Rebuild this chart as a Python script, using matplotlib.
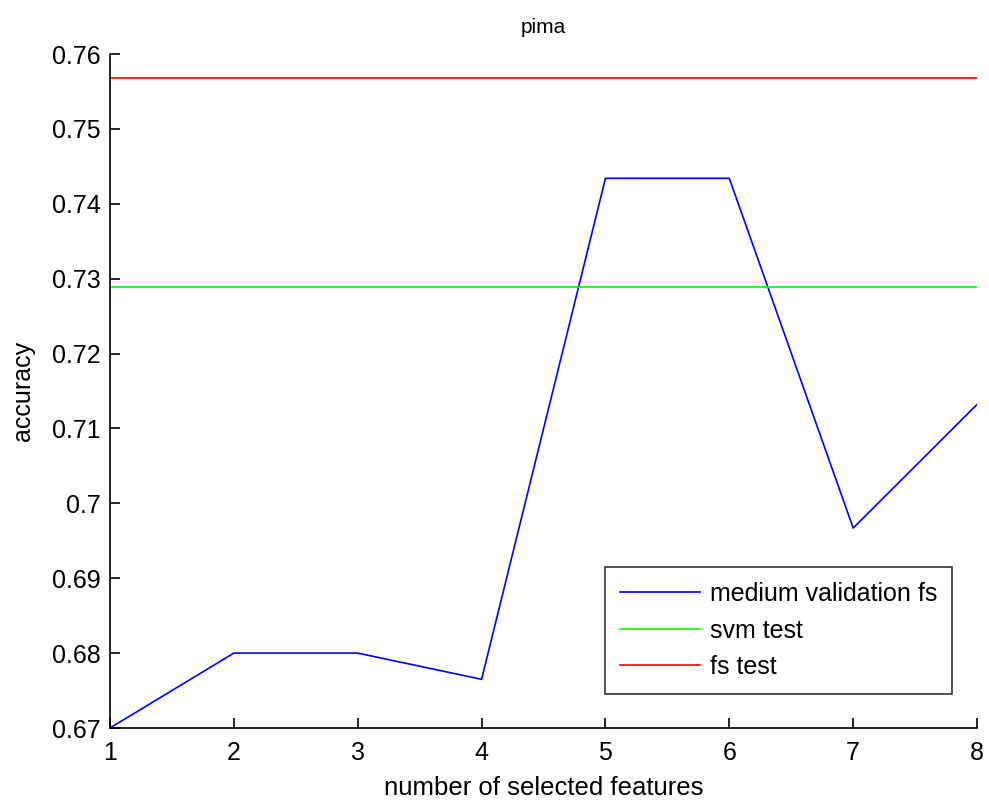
import matplotlib.pyplot as plt

plt.rcParams['font.family'] = ['Liberation Sans', 'DejaVu Sans']

# accuracy vs number of selected features (pima)
n_features = [1, 2, 3, 4, 5, 6, 7, 8]
medium_validation_fs = [0.6700, 0.6800, 0.6800, 0.6765, 0.7434, 0.7434, 0.6967, 0.7132]
svm_test = 0.7289
fs_test = 0.7568

fig = plt.figure(figsize=(9.89, 8), dpi=100)
ax = fig.add_axes([0.1112, 0.09, 0.8767, 0.8425])

ax.plot(n_features, medium_validation_fs, color='#0000ff', lw=1.2, label='medium validation fs')
ax.plot([n_features[0], n_features[-1]], [svm_test, svm_test], color='#00ff00', lw=1.2, label='svm test')
ax.plot([n_features[0], n_features[-1]], [fs_test, fs_test], color='#ff0000', lw=1.2, label='fs test')

ax.set_xlim(1, 8)
ax.set_ylim(0.67, 0.76)
ax.set_xticks(n_features)
ax.set_yticks([0.67, 0.68, 0.69, 0.70, 0.71, 0.72, 0.73, 0.74, 0.75, 0.76])
ax.set_yticklabels(['0.67', '0.68', '0.69', '0.7', '0.71', '0.72', '0.73', '0.74', '0.75', '0.76'])
ax.tick_params(direction='in', length=7, width=1.2, labelsize=18)
ax.tick_params(axis='x', pad=9)
ax.tick_params(axis='y', pad=7)

for side in ['top', 'right']:
    ax.spines[side].set_visible(False)
for side in ['left', 'bottom']:
    ax.spines[side].set_linewidth(1.2)

ax.set_xlabel('number of selected features', fontsize=18.5, labelpad=8)
ax.set_ylabel('accuracy', fontsize=18, labelpad=12)
ax.set_title('pima', fontsize=15, pad=15)

leg = ax.legend(loc='lower right', bbox_to_anchor=(0.971, 0.0504), borderaxespad=0,
                fontsize=18, frameon=True, fancybox=False, edgecolor='black',
                handlelength=3.2, borderpad=0.6, labelspacing=0.5, handletextpad=0.4)
leg.get_frame().set_linewidth(1.2)

fig.savefig('out.png', dpi=100)
